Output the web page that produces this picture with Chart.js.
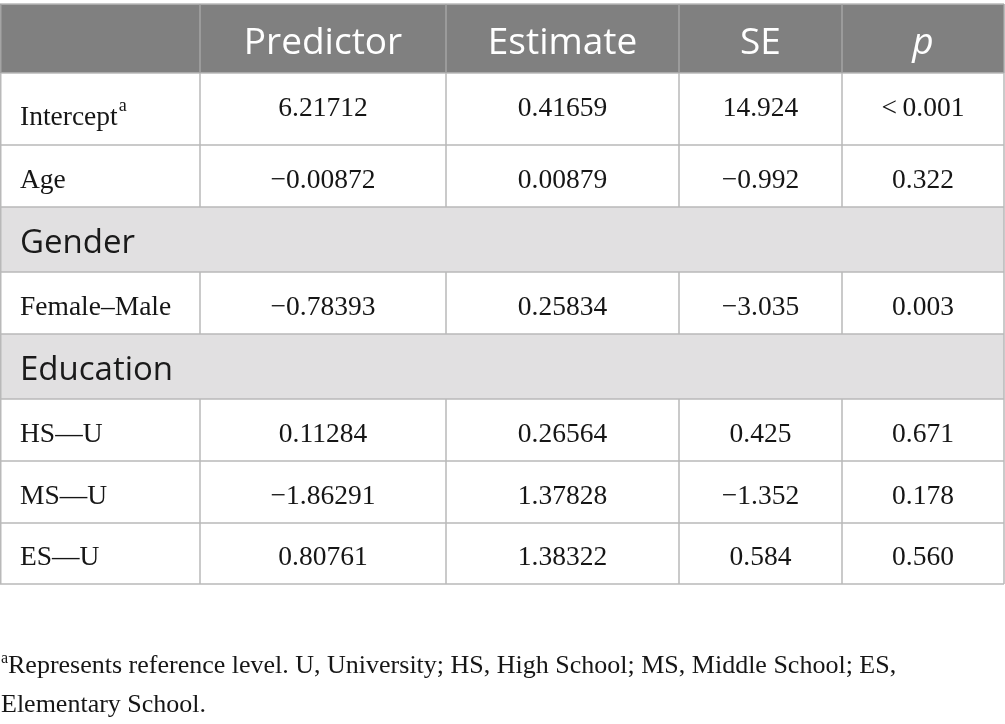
<!DOCTYPE html>
<html>
<head>
<meta charset="utf-8">
<script src="https://cdn.jsdelivr.net/npm/chart.js@4"></script>
<style>
  html, body { margin: 0; background: #fff; }
</style>
</head>
<body>
<canvas id="tabela" width="1005" height="724"></canvas>
<script>
// dados da tabela
const headers = ['', 'Predictor', 'Estimate', 'SE', 'p'];
const predictors = ['Intercept', 'Age', 'Female–Male', 'HS—U', 'MS—U', 'ES—U'];
const col1 = ['6.21712', '−0.00872', '−0.78393', '0.11284', '−1.86291', '0.80761'];
const col2 = ['0.41659', '0.00879', '0.25834', '0.26564', '1.37828', '1.38322'];
const col3 = ['14.924', '−0.992', '−3.035', '0.425', '−1.352', '0.584'];
const col4 = ['<\u20090.001', '0.322', '0.003', '0.671', '0.178', '0.560'];
const groups = ['Gender', 'Education'];
const groupBefore = [2, 3]; // grupo aparece antes deste preditor
const footnote = [
  'Represents reference level. U, University; HS, High School; MS, Middle School; ES,',
  'Elementary School.'
];

// layout (unidades das escalas)
const colEdges = [0, 200, 446, 679, 842, 1004];
const rowEdges = [4, 73, 145, 207, 272, 334, 399, 461, 523, 584];

// monta a ordem das linhas
const rows = [];
predictors.forEach((p, i) => {
  const g = groupBefore.indexOf(i);
  if (g >= 0) rows.push({ group: groups[g] });
  rows.push({ label: p, values: [col1[i], col2[i], col3[i], col4[i]], sup: i === 0 });
});

const serif = '"Liberation Serif"';
const sans = '"Open Sans"';

const tablePlugin = {
  id: 'tabela',
  afterDraw(chart) {
    const ctx = chart.ctx;
    const x = chart.scales.x, y = chart.scales.y;
    const X = v => x.getPixelForValue(v);
    const Y = v => y.getPixelForValue(v);
    const left = X(colEdges[0]), right = X(colEdges[colEdges.length - 1]);
    ctx.save();

    // cabeçalho
    ctx.fillStyle = '#808080';
    ctx.fillRect(left, Y(rowEdges[0]), right - left, Y(rowEdges[1]) - Y(rowEdges[0]));
    rows.forEach((r, i) => {
      if (r.group) {
        ctx.fillStyle = '#e1e0e1';
        ctx.fillRect(left, Y(rowEdges[i + 1]), right - left, Y(rowEdges[i + 2]) - Y(rowEdges[i + 1]));
      }
    });

    // linhas
    ctx.lineWidth = 1.5;
    ctx.strokeStyle = '#b9b9b9';
    rowEdges.forEach(v => {
      ctx.beginPath();
      ctx.moveTo(left, Y(v));
      ctx.lineTo(right, Y(v));
      ctx.stroke();
    });
    // verticais
    for (let r = 0; r <= rows.length; r++) {
      const y0 = Y(rowEdges[r]), y1 = Y(rowEdges[r + 1]);
      const isGroup = r > 0 && rows[r - 1].group;
      ctx.strokeStyle = r === 0 ? '#a4a4a4' : '#b9b9b9';
      colEdges.forEach((c, ci) => {
        if (isGroup && ci > 0 && ci < colEdges.length - 1) return;
        const px = ci === 0 ? X(c) + 0.75 : X(c);
        ctx.beginPath();
        ctx.moveTo(px, y0);
        ctx.lineTo(px, y1);
        ctx.stroke();
      });
    }

    const center = ci => (X(colEdges[ci]) + X(colEdges[ci + 1])) / 2;

    // texto do cabeçalho
    ctx.fillStyle = '#ffffff';
    ctx.textAlign = 'center';
    ctx.textBaseline = 'alphabetic';
    headers.forEach((h, ci) => {
      if (!h) return;
      ctx.font = (h === 'p' ? 'italic ' : '') + '37px ' + sans;
      ctx.fillText(h, center(ci), Y(54));
    });

    // corpo
    rows.forEach((r, i) => {
      const mid = (rowEdges[i + 1] + rowEdges[i + 2]) / 2;
      if (r.group) {
        ctx.fillStyle = '#1a1a1a';
        ctx.textAlign = 'left';
        ctx.font = '33px ' + sans;
        ctx.fillText(r.group, X(20), Y(mid + 13.5));
        return;
      }
      ctx.fillStyle = '#161616';
      ctx.font = '27.5px ' + serif;
      const labelBase = r.sup ? mid + 16 : mid + 11.5;
      const valueBase = r.sup ? mid + 6.5 : mid + 11.5;
      ctx.textAlign = 'left';
      ctx.fillText(r.label, X(20), Y(labelBase));
      if (r.sup) {
        const w = ctx.measureText(r.label).width;
        ctx.font = '18px ' + serif;
        ctx.fillText('a', X(20) + w + 1, Y(labelBase - 14));
        ctx.font = '27.5px ' + serif;
      }
      ctx.textAlign = 'center';
      r.values.forEach((v, vi) => ctx.fillText(v, center(vi + 1), Y(valueBase)));
    });

    // nota de rodapé
    ctx.textAlign = 'left';
    ctx.fillStyle = '#161616';
    ctx.font = '16px ' + serif;
    ctx.fillText('a', X(1), Y(663));
    ctx.font = '26px ' + serif;
    ctx.fillText(footnote[0], X(8), Y(673));
    ctx.fillText(footnote[1], X(1), Y(712));

    ctx.restore();
  }
};

const ctx = document.getElementById('tabela').getContext('2d');
const tabela = new Chart(ctx, {
  type: 'scatter',
  data: { datasets: [{ data: [] }] },
  options: {
    responsive: false,
    animation: false,
    events: [],
    layout: { padding: 0 },
    plugins: { legend: { display: false }, tooltip: { enabled: false } },
    scales: {
      x: { type: 'linear', min: 0, max: 1005, display: false },
      y: { type: 'linear', min: 0, max: 724, reverse: true, display: false }
    }
  },
  plugins: [tablePlugin]
});
</script>
</body>
</html>
